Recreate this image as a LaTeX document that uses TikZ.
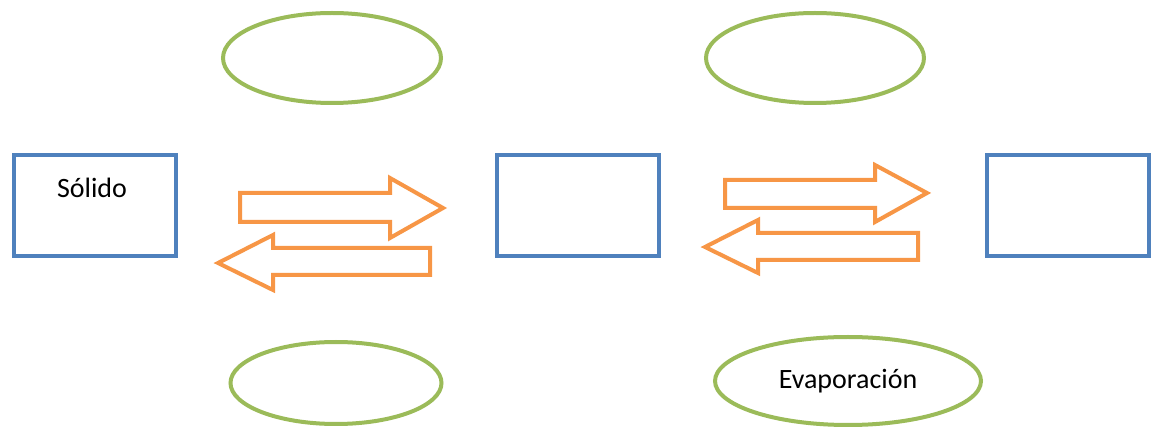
\documentclass[tikz,border=0pt]{standalone}
\usepackage{fontspec}
\setmainfont{Carlito}
\usetikzlibrary{shapes.geometric}
\definecolor{boxblue}{RGB}{79,129,189}
\definecolor{ovalgreen}{RGB}{155,187,89}
\definecolor{arroworange}{RGB}{247,150,70}
\begin{document}
\begin{tikzpicture}[x=1pt,y=-1pt,
  statebox/.style={draw=boxblue,line width=4pt,rectangle,minimum width=162pt,minimum height=101pt,inner sep=0pt,outer sep=0pt},
  oval/.style={draw=ovalgreen,line width=4pt,ellipse,inner sep=0pt,outer sep=0pt},
  blockarrow/.style={draw=arroworange,line width=4pt,line join=miter,fill=white},
  lbl/.style={font=\fontsize{28}{32}\selectfont,text=black}
]
\useasboundingbox (0,0) rectangle (1152,435);
% state boxes
\node[statebox] (b1) at (95,206) {};
\node[statebox] (b2) at (578,206) {};
\node[statebox] (b3) at (1068,206) {};
\node[lbl] (solido) at (92,188) {Sólido};
% ellipses
\node[oval,minimum width=218pt,minimum height=90pt] (e1) at (332,58) {};
\node[oval,minimum width=218pt,minimum height=90pt] (e2) at (815,58) {};
\node[oval,minimum width=211pt,minimum height=82pt] (e3) at (336,383) {};
\node[oval,minimum width=266pt,minimum height=88pt,lbl] (e4) at (848,381) {Evaporación};
% block arrows left pair
\draw[blockarrow] (240,193) -- (390,193) -- (390,178) -- (443,208) -- (390,238) -- (390,222) -- (240,222) -- cycle;
\draw[blockarrow] (430,248) -- (273,248) -- (273,235) -- (218,263) -- (273,290) -- (273,275) -- (430,275) -- cycle;
% block arrows right pair
\draw[blockarrow] (725,180) -- (875,180) -- (875,165) -- (927,193) -- (875,222) -- (875,208) -- (725,208) -- cycle;
\draw[blockarrow] (918,233) -- (758,233) -- (758,220) -- (705,247) -- (758,273) -- (758,260) -- (918,260) -- cycle;
\end{tikzpicture}
\end{document}
